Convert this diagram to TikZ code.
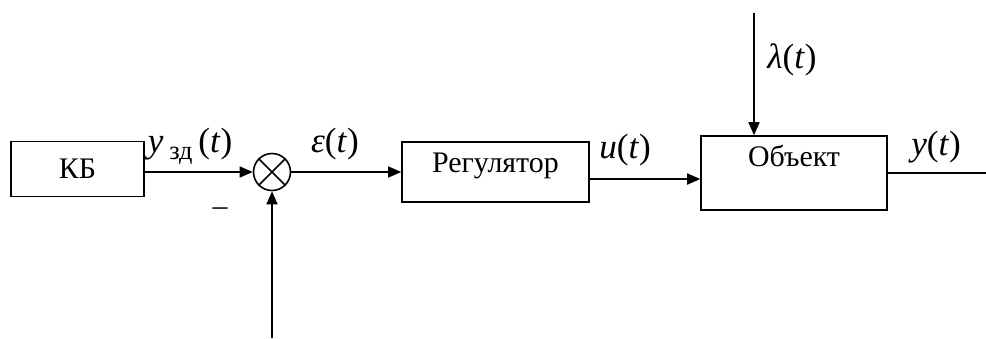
\documentclass[tikz,border=0pt]{standalone}
\usepackage{fontspec}
\setmainfont{Liberation Serif}[ItalicFont={Liberation Serif Italic}]
\usetikzlibrary{positioning,arrows.meta}

\begin{document}
\begin{tikzpicture}[x=0.02cm,y=-0.02cm,line width=0.9pt,
    block/.style={draw, rectangle, inner sep=0pt, font=\fontsize{17}{19}\selectfont},
    sumnode/.style={draw, circle, minimum size=0.74cm, inner sep=0pt},
    sig/.style={-{Triangle[length=0.26cm,width=0.22cm]}},
    lbl/.style={font=\fontsize{20}{22}\selectfont, inner sep=0pt, anchor=base}]
    \useasboundingbox (0,0) rectangle (986,338);

    % Blocks
    \node[block, minimum width=2.66cm, minimum height=1.1cm] (kb) at (77.5,169) {КБ};
    \node[sumnode] (sum) at (272,172) {};
    \draw (sum.north east) -- (sum.south west);
    \draw (sum.north west) -- (sum.south east);
    \node[block, minimum width=3.74cm, minimum height=1.2cm, text height=11pt, text depth=10pt] (reg) at (495.5,172) {Регулятор};
    \node[block, minimum width=3.72cm, minimum height=1.48cm, text height=11pt, text depth=18pt] (obj) at (794,173) {Объект};

    % Signals
    \draw[sig] (kb.east |- sum.west) -- (sum.west);
    \draw[sig] (sum.east) -- (reg.west);
    \draw[sig] ([yshift=-4pt]reg.east) -- ([yshift=-4pt]reg.east -| obj.west);
    \coordinate (dist) at (754,13);
    \draw[sig] (dist) -- (dist |- obj.north);
    \coordinate (out) at (986,173);
    \draw (obj.east) -- (out);
    \coordinate (fb) at (272,338);
    \draw[sig] (fb) -- (sum.south);

    % Labels
    \node[lbl, anchor=base west] (yzd) at (147,152) {\textit{y}\,\raisebox{-4pt}{\fontsize{15}{15}\selectfont зд}\,(\textit{t})};
    \node[lbl] (eps) at (335,152) {\textit{ε}(\textit{t})};
    \node[lbl] (ut) at (625,158) {\textit{u}(\textit{t})};
    \node[lbl] (lt) at (792,68) {\textit{λ}(\textit{t})};
    \node[lbl] (yt) at (936,155) {\textit{y}(\textit{t})};
    \node[font=\fontsize{17}{19}\selectfont, inner sep=0pt] (minus) at (220,212) {–};
\end{tikzpicture}
\end{document}
